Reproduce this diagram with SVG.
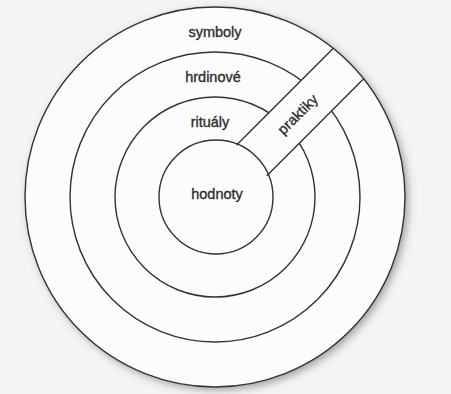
<svg xmlns="http://www.w3.org/2000/svg" width="451" height="394" viewBox="0 0 451 394">
  <style>
    .ring { fill: none; stroke: #333; stroke-width: 1.4; }
    .lbl { font-family: "Liberation Sans", Arial, sans-serif; font-size: 14.5px; fill: #2e2e2e; stroke: #2e2e2e; stroke-width: 0.35; text-anchor: middle; }
    .edge { stroke: #333; stroke-width: 1.4; fill: none; }
  </style>
  <defs>
    <filter id="shadow" x="-20%" y="-20%" width="140%" height="140%">
      <feDropShadow dx="3" dy="3" stdDeviation="4" flood-color="#555" flood-opacity="0.55"/>
    </filter>
  </defs>
  <rect x="0" y="0" width="451" height="394" fill="#f4f4f4"/>
  <g id="ring-symboly">
    <circle cx="215" cy="197" r="190" fill="#fcfcfc" filter="url(#shadow)"/>
    <text class="lbl" x="215" y="36.5">symboly</text>
  </g>
  <g id="ring-hrdinove">
    <circle class="ring" cx="215" cy="197" r="145"/>
    <text class="lbl" x="213" y="82">hrdinové</text>
  </g>
  <g id="ring-ritualy">
    <circle class="ring" cx="215" cy="197" r="100"/>
    <text class="lbl" x="210" y="127">rituály</text>
  </g>
  <g id="band-praktiky" transform="rotate(-45 215 197)">
    <rect x="265" y="175.5" width="139" height="43" fill="#fcfcfc"/>
    <line class="edge" x1="266.7" y1="175.5" x2="403.8" y2="175.5"/>
    <line class="edge" x1="266.7" y1="218.5" x2="403.8" y2="218.5"/>
    <text class="lbl" x="332" y="202">praktiky</text>
  </g>
  <g id="outline">
    <circle class="ring" cx="215" cy="197" r="190"/>
  </g>
  <g id="core-hodnoty">
    <circle class="ring" cx="216" cy="197" r="57" fill="#fcfcfc"/>
    <text class="lbl" x="217" y="199">hodnoty</text>
  </g>
  <g id="connectors"/>
</svg>
